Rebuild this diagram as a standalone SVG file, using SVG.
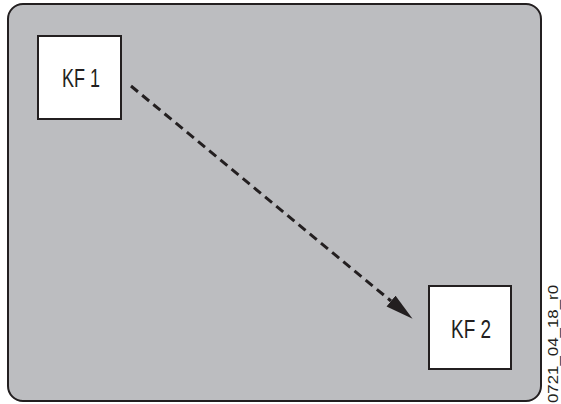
<svg xmlns="http://www.w3.org/2000/svg" width="561" height="404" viewBox="0 0 561 404">
<style>
.frame{fill:#bcbdc0;stroke:#231f20;stroke-width:2}
.box{fill:#ffffff;stroke:#231f20;stroke-width:2}
.lbl{font-family:"Liberation Sans",Arial,sans-serif;font-size:25px;fill:#231f20}
.conn{fill:none;stroke:#231f20;stroke-width:3;stroke-dasharray:9 5.5}
.code{font-family:"Liberation Sans",Arial,sans-serif;font-size:15px;fill:#231f20}
</style>
<defs>
<marker id="ah" markerUnits="userSpaceOnUse" markerWidth="30" markerHeight="16" refX="0" refY="7" orient="auto">
<path d="M0,0 L28,7 L0,14 Z" fill="#231f20"/>
</marker>
</defs>
<rect class="frame" x="8" y="4" width="533" height="397" rx="15" ry="15"/>
<g id="connectors">
<line class="conn" x1="131" y1="86" x2="391" y2="301" marker-end="url(#ah)"/>
</g>
<g id="kf1">
<rect class="box" x="38" y="36" width="83" height="83"/>
<text class="lbl" x="62" y="87" textLength="38" lengthAdjust="spacingAndGlyphs">KF 1</text>
</g>
<g id="kf2">
<rect class="box" x="429" y="286" width="82" height="83"/>
<text class="lbl" x="451" y="338" textLength="40" lengthAdjust="spacingAndGlyphs">KF 2</text>
</g>
<text class="code" transform="translate(558,403) rotate(-90)" x="0" y="0" textLength="118" lengthAdjust="spacingAndGlyphs">0721_04_18_r0</text>
</svg>
